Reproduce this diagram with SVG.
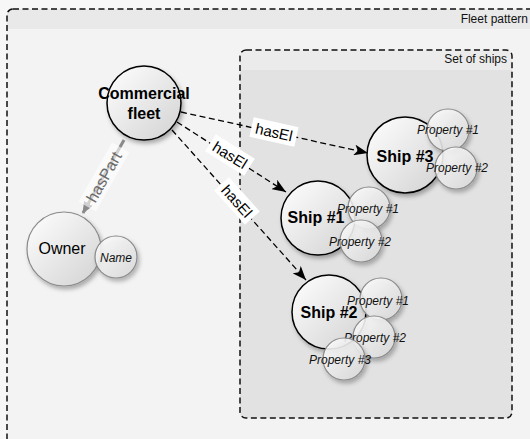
<svg xmlns="http://www.w3.org/2000/svg" width="530" height="439" viewBox="0 0 530 439">
  <style>
    .frame { stroke: #111; stroke-width: 1.5; stroke-dasharray: 6 3.5; fill: none; }
    .title { font-family: "Liberation Sans", Arial, sans-serif; font-size: 12px; fill: #111; text-anchor: end; }
    .main { fill: url(#nodeFill); stroke: #000; stroke-width: 1.5; filter: url(#shadow); }
    .soft { fill: url(#nodeFill); stroke: #8a8a8a; stroke-width: 1.2; filter: url(#shadow); }
    .prop { fill: url(#propFill); fill-opacity: 0.88; stroke: #8a8a8a; stroke-width: 1.2; filter: url(#shadow); }
    .bold { font-family: "Liberation Sans", Arial, sans-serif; font-weight: bold; font-size: 16px; fill: #000; text-anchor: middle; }
    .plain { font-family: "Liberation Sans", Arial, sans-serif; font-size: 16px; fill: #000; text-anchor: middle; }
    .ital { font-family: "Liberation Sans", Arial, sans-serif; font-style: italic; font-size: 12px; fill: #111; text-anchor: middle; }
    .rel { stroke: #000; stroke-width: 1.3; stroke-dasharray: 6 3.5; fill: none; marker-end: url(#arrow); }
    .part { stroke: #8a8a8a; stroke-width: 3; fill: none; marker-end: url(#grayArrow); }
    .lblbox { fill: #fff; }
    .lbl { font-family: "Liberation Sans", Arial, sans-serif; font-size: 15px; fill: #000; text-anchor: middle; }
  </style>
  <defs>
    <linearGradient id="nodeFill" x1="0" y1="0" x2="1" y2="1">
      <stop offset="0" stop-color="#ffffff"/>
      <stop offset="1" stop-color="#d2d2d2"/>
    </linearGradient>
    <linearGradient id="propFill" x1="0" y1="0" x2="1" y2="1">
      <stop offset="0" stop-color="#ffffff"/>
      <stop offset="1" stop-color="#d9d9d9"/>
    </linearGradient>
    <filter id="shadow" x="-30%" y="-30%" width="170%" height="170%">
      <feDropShadow dx="2" dy="3" stdDeviation="2" flood-color="#000" flood-opacity="0.3"/>
    </filter>
    <marker id="arrow" viewBox="0 0 14 11" refX="14" refY="5.5" markerWidth="14" markerHeight="11" markerUnits="userSpaceOnUse" orient="auto">
      <path d="M0,0 L14,5.5 L0,11 L3.5,5.5 Z" fill="#000"/>
    </marker>
    <marker id="grayArrow" viewBox="0 0 12 10" refX="11" refY="5" markerWidth="12" markerHeight="10" markerUnits="userSpaceOnUse" orient="auto">
      <path d="M0,0 L12,5 L0,10 Z" fill="#8a8a8a"/>
    </marker>
  </defs>

  <!-- page -->
  <rect x="0" y="0" width="530" height="439" fill="#f7f7f7"/>

  <!-- outer group: Fleet pattern -->
  <g id="fleet-pattern">
    <path d="M7,29 V15 Q7,9 13,9 H540 V29 Z" fill="#e9e9e9"/>
    <rect x="7" y="29" width="533" height="420" fill="#f3f3f3"/>
    <rect class="frame" x="7" y="9" width="533" height="440" rx="6"/>
    <text class="title" x="528" y="23">Fleet pattern</text>
  </g>

  <!-- inner group: Set of ships -->
  <g id="set-of-ships">
    <path d="M240,70 V56 Q240,50 246,50 H506 Q512,50 512,56 V70 Z" fill="#ebebeb"/>
    <path d="M240,70 H512 V412 Q512,418 506,418 H246 Q240,418 240,412 Z" fill="#e2e2e2"/>
    <rect class="frame" x="240" y="50" width="272" height="368" rx="6"/>
    <text class="title" x="507" y="63">Set of ships</text>
  </g>

  <!-- connectors -->
  <g id="edges">
    <line class="part" x1="124" y1="140" x2="83" y2="213"/>
    <g transform="translate(104,177) rotate(-60.5)">
      <rect x="-34" y="-10" width="68" height="20" fill="#fff" fill-opacity="0.6"/>
      <text class="lbl" x="0" y="5.5" style="font-size:16px; fill:#6a6a6a">hasPart</text>
    </g>

    <line class="rel" x1="181" y1="112" x2="368" y2="153"/>
    <line class="rel" x1="177" y1="122" x2="286" y2="192"/>
    <line class="rel" x1="172" y1="130" x2="306" y2="280"/>

    <g transform="translate(274,132) rotate(12.4)">
      <rect class="lblbox" x="-23" y="-10" width="46" height="20"/>
      <text class="lbl" x="0" y="5.5">hasEl</text>
    </g>
    <g transform="translate(230,155) rotate(32)">
      <rect class="lblbox" x="-23" y="-10" width="46" height="20"/>
      <text class="lbl" x="0" y="5.5">hasEl</text>
    </g>
    <g transform="translate(237,201) rotate(48)">
      <rect class="lblbox" x="-23" y="-10" width="46" height="20"/>
      <text class="lbl" x="0" y="5.5">hasEl</text>
    </g>
  </g>

  <!-- nodes -->
  <g id="commercial-fleet">
    <circle class="main" cx="144" cy="103" r="37"/>
    <text class="bold" x="144" y="99">Commercial</text>
    <text class="bold" x="144" y="119">fleet</text>
  </g>

  <g id="owner">
    <circle class="soft" cx="64" cy="249" r="37"/>
    <text class="plain" x="62" y="254">Owner</text>
  </g>
  <g id="owner-name">
    <circle class="prop" cx="116" cy="257" r="21"/>
    <text class="ital" x="116" y="262">Name</text>
  </g>

  <g id="ship-3">
    <circle class="main" cx="405" cy="155" r="38"/>
    <text class="bold" x="405" y="162">Ship #3</text>
  </g>
  <g id="ship-3-property-1">
    <circle class="prop" cx="448" cy="130" r="21"/>
    <text class="ital" x="448" y="134">Property #1</text>
  </g>
  <g id="ship-3-property-2">
    <circle class="prop" cx="456" cy="168" r="21"/>
    <text class="ital" x="457" y="172">Property #2</text>
  </g>

  <g id="ship-1">
    <circle class="main" cx="318" cy="218" r="37"/>
    <text class="bold" x="316" y="223">Ship #1</text>
  </g>
  <g id="ship-1-property-1">
    <circle class="prop" cx="369" cy="208" r="21"/>
    <text class="ital" x="368" y="213">Property #1</text>
  </g>
  <g id="ship-1-property-2">
    <circle class="prop" cx="361" cy="241" r="21"/>
    <text class="ital" x="360" y="246">Property #2</text>
  </g>

  <g id="ship-2">
    <circle class="main" cx="329" cy="312" r="37"/>
    <text class="bold" x="329" y="318">Ship #2</text>
  </g>
  <g id="ship-2-property-1">
    <circle class="prop" cx="381" cy="299" r="21"/>
    <text class="ital" x="378" y="305">Property #1</text>
  </g>
  <g id="ship-2-property-2">
    <circle class="prop" cx="374" cy="337" r="21"/>
    <text class="ital" x="375" y="342">Property #2</text>
  </g>
  <g id="ship-2-property-3">
    <circle class="prop" cx="344" cy="359" r="21"/>
    <text class="ital" x="340" y="364">Property #3</text>
  </g>
</svg>
